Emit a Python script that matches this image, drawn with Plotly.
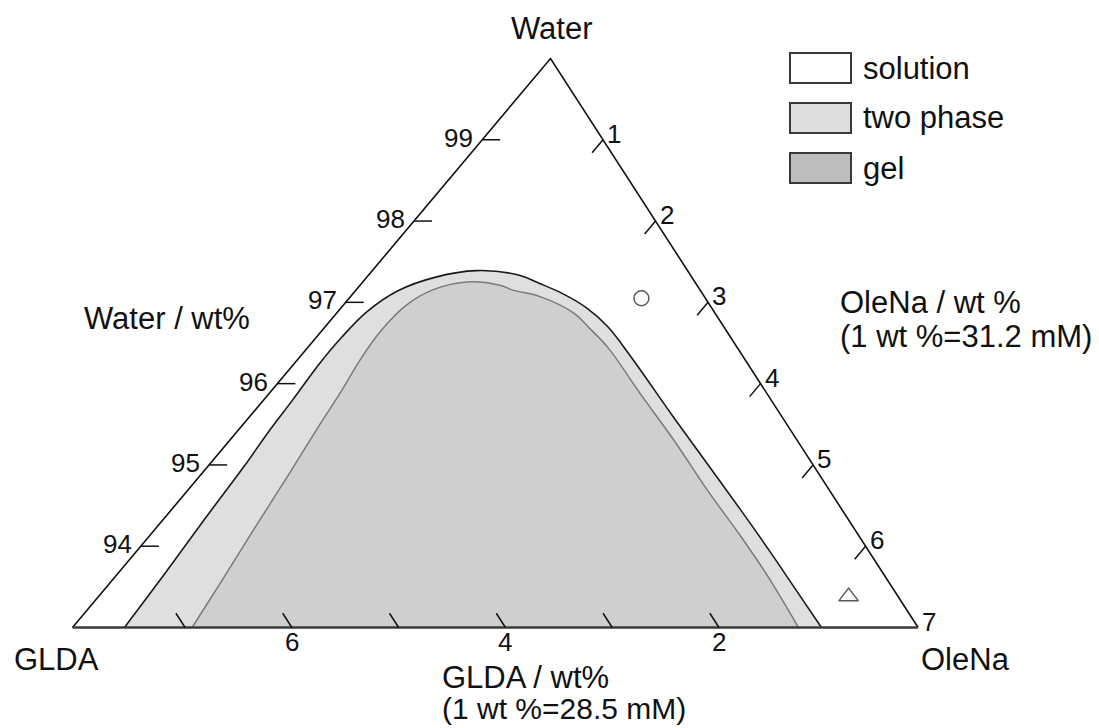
import plotly.graph_objects as go

# ---------------- data (wt %) ----------------
# solution / two-phase boundary, from the GLDA side to the OleNa side
outer_water = [93.00, 93.66, 94.34, 94.98, 95.43, 95.80, 96.23, 96.57, 96.88, 97.14, 97.31, 97.39,
               97.34, 97.23, 97.11, 96.94, 96.70, 96.34, 95.59, 95.02, 94.45, 93.93, 93.46, 93.00]
outer_olena = [0.43, 0.39, 0.34, 0.30, 0.26, 0.24, 0.21, 0.21, 0.24, 0.35, 0.57, 0.86,
               1.23, 1.48, 1.73, 2.02, 2.34, 2.73, 3.51, 4.11, 4.71, 5.25, 5.73, 6.20]
# two-phase / gel boundary
gel_water = [93.00, 93.58, 94.20, 94.85, 95.47, 95.92, 96.29, 96.65, 96.96, 97.15, 97.25,
             97.21, 97.15, 97.07, 96.87, 96.68, 96.44, 95.88, 95.31, 94.69, 94.12, 93.62, 93.00]
gel_olena = [0.99, 0.91, 0.82, 0.73, 0.64, 0.58, 0.52, 0.49, 0.52, 0.63, 0.86,
             1.16, 1.30, 1.57, 1.96, 2.20, 2.49, 3.07, 3.67, 4.30, 4.90, 5.41, 6.01]
# individual samples
sample_water = [97.05, 93.38]
sample_olena = [2.42, 6.21]
sample_symbols = ["circle-open", "triangle-up-open"]

water_ticks = [94, 95, 96, 97, 98, 99]
olena_ticks = [1, 2, 3, 4, 5, 6]
olena_labels = [1, 2, 3, 4, 5, 6, 7]
glda_ticks = [7, 6, 5, 4, 3, 2]
glda_tick_labels = ["", "6", "", "4", "", "2"]

legend_labels = ["solution", "two phase", "gel"]
legend_colors = ["#ffffff", "#dedede", "#bdbdbd"]

# ---------------- geometry / style ----------------
FIG_W, FIG_H = 1099, 728
W_MIN = 93.0
APEX = 0.5653            # horizontal position of the Water apex (fraction of base)
GLDA_U0, GLDA_K = 7.12, 0.884   # bottom (GLDA) scale as drawn in the figure
X_RANGE = [-0.6002, 8.4975]
Y_RANGE = [-1.2363, 7.7193]
FONT = "Liberation Sans, Arial, sans-serif"
TITLE_SIZE = 31
TICK_SIZE = 26


def proj(w, o):
    v = w - W_MIN
    return o + APEX * v, v


def proj_list(ws, os_):
    xs, ys = [], []
    for w, o in zip(ws, os_):
        x, y = proj(w, o)
        xs.append(x)
        ys.append(y)
    return xs, ys


def px(x):
    return x / FIG_W


def py(y):
    return 1 - y / FIG_H


fig = go.Figure()

# two-phase region (outer boundary)
ox, oy = proj_list(outer_water, outer_olena)
fig.add_trace(go.Scatter(x=ox, y=oy, mode="lines", fill="toself", fillcolor="#dfdfdf",
                         line=dict(color="#1a1a1a", width=1.6, shape="spline", smoothing=1.0),
                         hoverinfo="skip"))
# gel region
gx, gy = proj_list(gel_water, gel_olena)
fig.add_trace(go.Scatter(x=gx, y=gy, mode="lines", fill="toself", fillcolor="#cfcfcf",
                         line=dict(color="#7a7a7a", width=1.5, shape="spline", smoothing=1.0),
                         hoverinfo="skip"))

# triangle edges
ex, ey = proj_list([93, 100, 93], [0, 0, 7])
fig.add_trace(go.Scatter(x=ex, y=ey, mode="lines", line=dict(color="#111111", width=1.6),
                         hoverinfo="skip"))
bx, by = proj_list([93, 93], [0, 7])
fig.add_trace(go.Scatter(x=bx, y=by, mode="lines", line=dict(color="#3a3a3a", width=2.6),
                         hoverinfo="skip"))

# ticks
tx, ty = [], []
for w in water_ticks:
    for o in (0.0, 0.149):
        x, y = proj(w, o)
        tx.append(x); ty.append(y)
    tx.append(None); ty.append(None)
for o in olena_ticks:
    for d in (0.0, 0.16):
        x, y = proj(100 - o - d, o)
        tx.append(x); ty.append(y)
    tx.append(None); ty.append(None)
for g in glda_ticks:
    o0 = GLDA_U0 - GLDA_K * g
    for d in (0.0, 0.175):
        x, y = proj(W_MIN + d, o0 - d)
        tx.append(x); ty.append(y)
    tx.append(None); ty.append(None)
fig.add_trace(go.Scatter(x=tx, y=ty, mode="lines", line=dict(color="#111111", width=1.5),
                         hoverinfo="skip"))

# samples
sx, sy = proj_list(sample_water, sample_olena)
fig.add_trace(go.Scatter(x=sx, y=sy, mode="markers",
                         marker=dict(symbol=sample_symbols, size=[15, 17], color="#111111",
                                     line=dict(width=1.5, color="#111111")),
                         hoverinfo="skip"))

annotations = []
# water tick labels
for w in water_ticks:
    x, y = proj(w, 0)
    annotations.append(dict(x=x, y=y, xref="x", yref="y", text=str(w), showarrow=False,
                            xanchor="right", yanchor="middle", xshift=-7, yshift=2,
                            font=dict(family=FONT, size=TICK_SIZE, color="#111111")))
# olena tick labels
for o in olena_labels:
    x, y = proj(100 - o, o)
    annotations.append(dict(x=x, y=y, xref="x", yref="y", text=str(o), showarrow=False,
                            xanchor="left", yanchor="middle", xshift=2, yshift=6,
                            font=dict(family=FONT, size=TICK_SIZE, color="#111111")))
# glda tick labels
for g, lab in zip(glda_ticks, glda_tick_labels):
    if not lab:
        continue
    x, y = proj(W_MIN, GLDA_U0 - GLDA_K * g)
    annotations.append(dict(x=x, y=y, xref="x", yref="y", text=lab, showarrow=False,
                            xanchor="center", yanchor="middle", yshift=-14,
                            font=dict(family=FONT, size=TICK_SIZE, color="#111111")))


def label(text, x, y, anchor="center", size=TITLE_SIZE):
    annotations.append(dict(x=px(x), y=py(y), xref="paper", yref="paper", text=text,
                            showarrow=False, xanchor=anchor, yanchor="middle",
                            font=dict(family=FONT, size=size, color="#111111")))


label("Water", 552, 29)
label("Water / wt%", 82, 318, "left")
label("OleNa / wt %", 838, 302, "left")
label("(1 wt %=31.2 mM)", 838, 336, "left")
label("GLDA", 12, 659, "left")
label("OleNa", 919, 659, "left")
label("GLDA / wt%", 440, 677, "left")
label("(1 wt %=28.5 mM)", 440, 708, "left", 30)

# custom legend
shapes = []
for i, (lab, col) in enumerate(zip(legend_labels, legend_colors)):
    top = 53 + 50 * i
    shapes.append(dict(type="rect", xref="paper", yref="paper",
                       x0=px(790), x1=px(851), y0=py(top + 30), y1=py(top),
                       fillcolor=col, line=dict(color="#3a3a3a", width=2)))
    label(lab, 861, top + 15, "left")

fig.update_layout(
    width=FIG_W, height=FIG_H, autosize=False,
    margin=dict(l=0, r=0, t=0, b=0),
    paper_bgcolor="white", plot_bgcolor="white",
    showlegend=False,
    xaxis=dict(range=X_RANGE, visible=False, fixedrange=True),
    yaxis=dict(range=Y_RANGE, visible=False, fixedrange=True),
    annotations=annotations, shapes=shapes,
)

fig.write_html("out.html", config={"displayModeBar": False})
